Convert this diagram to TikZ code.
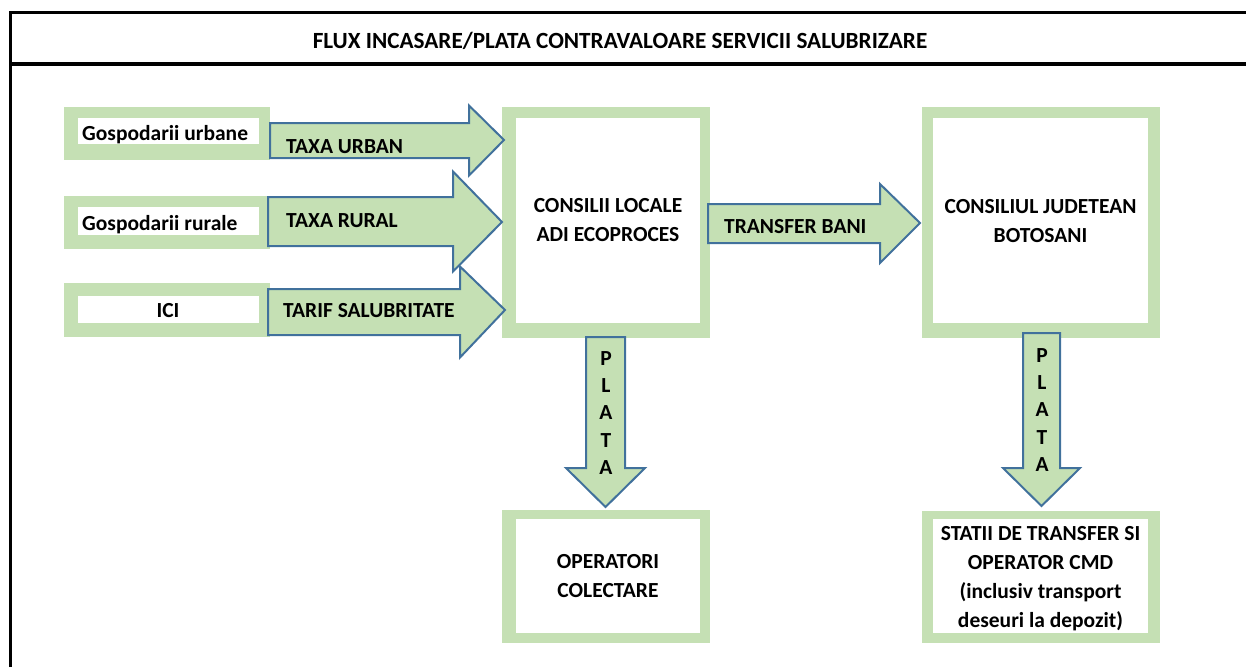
\documentclass[tikz,border=0pt]{standalone}
\usepackage{fontspec}
\setmainfont{Carlito}
\usepackage{tikz}
\usetikzlibrary{fit}

\definecolor{boxgreen}{RGB}{197,224,180}
\definecolor{arrowblue}{RGB}{65,113,156}

\tikzset{
	greenbox/.style={fill=boxgreen, inner sep=0pt},
	whitebox/.style={fill=white, inner sep=0pt},
	boxtext/.style={font=\fontsize{21.5}{29}\selectfont\bfseries, align=center, inner sep=0pt},
	flowarrow/.style={fill=boxgreen, draw=arrowblue, line width=2pt, line join=miter},
}

\begin{document}
\begin{tikzpicture}[x=1pt,y=-1pt]
		\useasboundingbox (0,0) rectangle (1246,667);
		% frame and title
		\draw[line width=3.3pt] (10.3,667) |- (1246,12.5);
		\draw[line width=3.3pt] (10.3,64) -- (1246,64);
		\node[boxtext, font=\fontsize{23.2}{29}\selectfont\bfseries, anchor=base] (title) at (620,48) {FLUX INCASARE/PLATA CONTRAVALOARE SERVICII SALUBRIZARE};
		% boxes
		\foreach \n/\xa/\ya/\xb/\yb/\xc/\yc/\xd/\yd in{
				urb/64/107/270/160/78/118/259/144,
				rur/64/196/270/249/78/207/259/235,
				ici/64/283/270/337/78/296/259/323,
				loc/502/107/710/338/516/118/700/323,
				jud/922/107/1160/338/933/118/1148/323,
				col/502/510/710/643/516/519/700/633,
				cmd/922/511/1160/643/933/519/1148/633
		}{
		\node[greenbox, fit={(\xa,\ya)(\xb,\yb)}](\n){};
		\node[whitebox, fit={(\xc,\yc)(\xd,\yd)}](\n in){};
		}
		% horizontal arrows
		\foreach \xs/\xb/\xt/\yc/\ws/\wh/\yt in{
				270/469/504/140.5/17.5/35/140,
				268/453/502/221.5/24.5/50/222,
				268/460/505/312/23/45.5/310,
				708/880/920/223.5/19.5/39.5/223
		}{
		\draw[flowarrow] (\xs,{\yc-\ws}) -- (\xb,{\yc-\ws}) -- (\xb,{\yc-\wh}) -- (\xt,\yt)
				-- (\xb,{\yc+\wh}) -- (\xb,{\yc+\ws}) -- (\xs,{\yc+\ws}) -- cycle;
		}
		% vertical arrows
		\foreach \xc/\ws/\wh/\ys/\yb/\yt in{
				605.5/19.5/39.5/337/468/507,
				1041.5/18.5/38.5/333/468/506
		}{
		\draw[flowarrow] ({\xc-\ws},\ys) -- ({\xc-\ws},\yb) -- ({\xc-\wh},\yb) -- (\xc,\yt)
				-- ({\xc+\wh},\yb) -- ({\xc+\ws},\yb) -- ({\xc+\ws},\ys) -- cycle;
		}
		% texts
		\node[boxtext, anchor=base west] (urbtext) at (82,140) {Gospodarii urbane};
		\node[boxtext, anchor=base west] (rurtext) at (82,230) {Gospodarii rurale};
		\node[boxtext, anchor=base] (icitext) at (168,317) {ICI};
		\node[boxtext, anchor=base west] (urbtax) at (286,153) {TAXA URBAN};
		\node[boxtext, anchor=base west] (rurtax) at (286,227) {TAXA RURAL};
		\node[boxtext, anchor=base west] (icitax) at (283,317) {TARIF SALUBRITATE};
		\node[boxtext, anchor=base west] (transfer) at (724,233) {TRANSFER BANI};
		\node[boxtext] (loctext) at (608,220.5) {CONSILII LOCALE\\ADI ECOPROCES};
		\node[boxtext] (judtext) at (1040.5,221) {CONSILIUL JUDETEAN\\BOTOSANI};
		\node[boxtext] (coltext) at (608,576.5) {OPERATORI\\COLECTARE};
		\node[boxtext] (cmdtext) at (1040.5,579) {STATII DE TRANSFER SI\\OPERATOR CMD\\(inclusiv transport\\deseuri la depozit)};
		\node[boxtext, font=\fontsize{21.5}{27.3}\selectfont\bfseries] (plata1) at (606,413) {P\\L\\A\\T\\A};
		\node[boxtext, font=\fontsize{21.5}{27.3}\selectfont\bfseries] (plata2) at (1042,410) {P\\L\\A\\T\\A};
\end{tikzpicture}
\end{document}
